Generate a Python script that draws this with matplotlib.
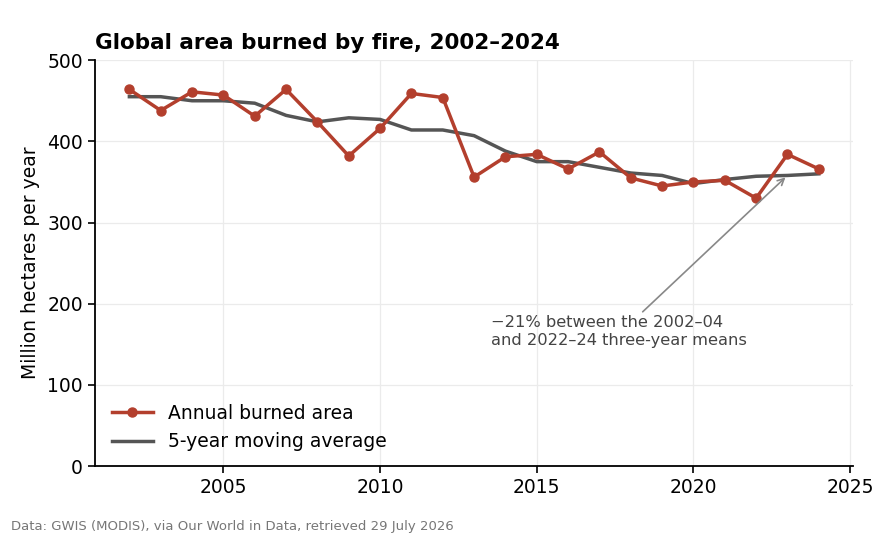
import matplotlib
matplotlib.use("Agg")
import matplotlib.pyplot as plt
import numpy as np

years = list(range(2002, 2025))
annual = [464, 438, 461, 457, 431, 464, 424, 382, 416, 459, 454, 356,
          381, 384, 366, 387, 355, 345, 350, 352, 330, 384, 366]
moving_avg = [455, 455, 450, 450, 447, 432, 424, 429, 427, 414, 414, 407,
              388, 375, 375, 368, 361, 358, 348, 353, 357, 358, 360]

red = "#b33f2d"
grey = "#555555"

fig = plt.figure(figsize=(8.87, 5.42), dpi=100)
ax = fig.add_axes([0.107, 0.140, 0.855, 0.749])

ax.plot(years, annual, color=red, lw=2.5, marker="o", ms=6.5, label="Annual burned area", zorder=3)
ax.plot(years, moving_avg, color=grey, lw=2.5, label="5-year moving average", zorder=2)

ax.set_xlim(2000.9, 2025.1)
ax.set_ylim(0, 500)
ax.set_xticks([2005, 2010, 2015, 2020, 2025])
ax.set_yticks([0, 100, 200, 300, 400, 500])
ax.tick_params(labelsize=13.5, width=1.2, length=5)
ax.grid(True, color="#ebebeb", lw=0.9)
ax.set_axisbelow(True)
for s in ["top", "right"]:
    ax.spines[s].set_visible(False)
for s in ["left", "bottom"]:
    ax.spines[s].set_linewidth(1.3)

ax.set_ylabel("Million hectares per year", fontsize=13.5, labelpad=5)
ax.set_title("Global area burned by fire, 2002\u20132024", fontsize=15.5,
             fontweight="bold", loc="left", pad=8)

ax.annotate("\u221221% between the 2002\u201304\nand 2022\u201324 three-year means",
            xy=(2023, 358), xytext=(2013.55, 146), fontsize=11.7, color="#444444",
            ha="left", va="bottom", linespacing=1.25,
            arrowprops=dict(arrowstyle="->", color="#888888", lw=1.2,
                            shrinkA=0, shrinkB=2, relpos=(0.58, 1.0)))

ax.legend(loc="lower left", frameon=False, fontsize=13.5, bbox_to_anchor=(0.0, -0.005),
          handlelength=2.2)

fig.text(0.012, 0.022, "Data: GWIS (MODIS), via Our World in Data, retrieved 29 July 2026",
         fontsize=9.5, color="#777777")

fig.savefig("out.png", dpi=100)
